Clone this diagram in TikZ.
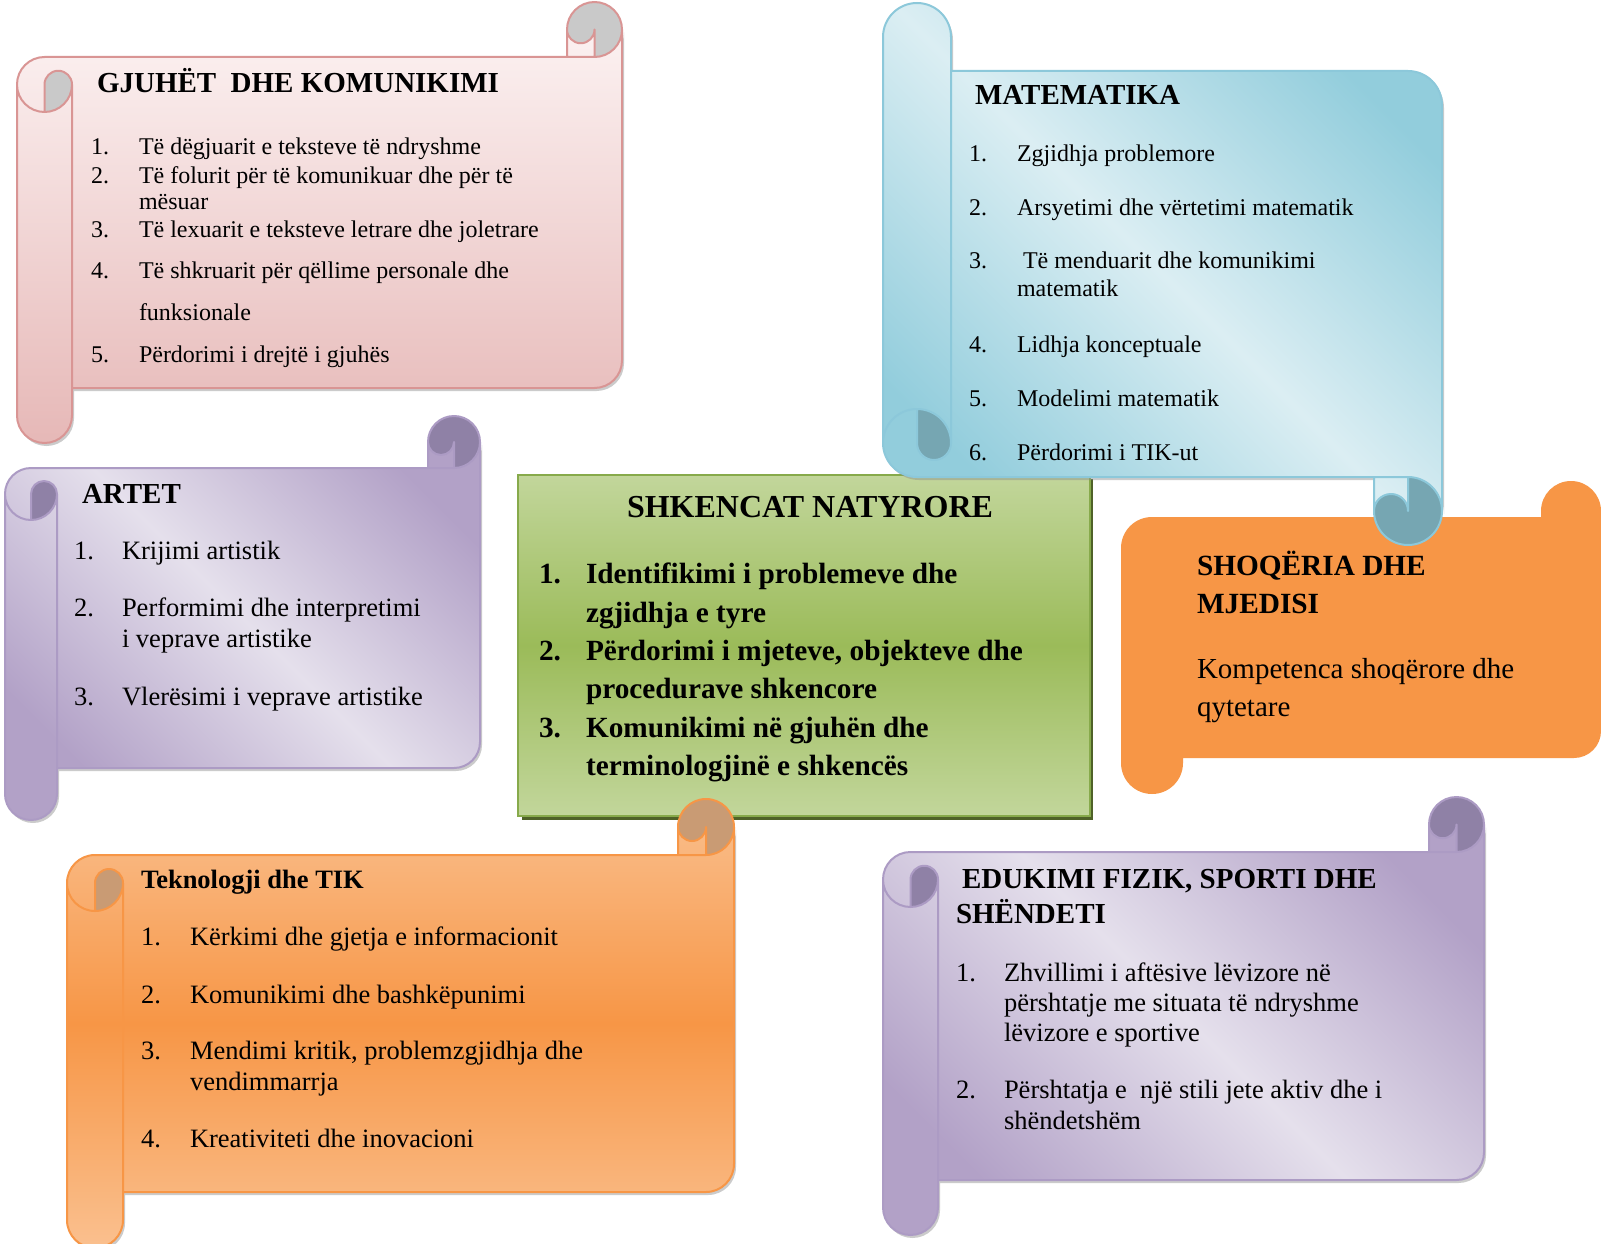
\documentclass[tikz,border=0pt]{standalone}
\usepackage{fontspec}
\setmainfont{Liberation Serif}
\definecolor{pinkA}{RGB}{253,245,245}
\definecolor{pinkB}{RGB}{230,184,183}
\definecolor{pinkLine}{RGB}{217,149,148}
\definecolor{pinkCurl}{RGB}{201,201,201}
\definecolor{blueA}{RGB}{146,205,220}
\definecolor{blueB}{RGB}{219,238,243}
\definecolor{blueLine}{RGB}{140,200,218}
\definecolor{blueCurl}{RGB}{118,166,178}
\definecolor{purA}{RGB}{178,161,199}
\definecolor{purB}{RGB}{229,224,236}
\definecolor{purLine}{RGB}{172,155,196}
\definecolor{purCurl}{RGB}{143,129,166}
\definecolor{orA}{RGB}{250,192,143}
\definecolor{orB}{RGB}{247,150,70}
\definecolor{orCurl}{RGB}{201,155,116}
\definecolor{grA}{RGB}{194,214,155}
\definecolor{grB}{RGB}{155,187,89}
\definecolor{grLine}{RGB}{135,170,75}
\definecolor{grShadow}{RGB}{79,98,40}
\tikzset{
  lbl/.style={anchor=base west, inner sep=0pt, outer sep=0pt},
  fA/.style={lbl, font=\fontsize{24}{28}\selectfont},
  fB/.style={lbl, font=\fontsize{26.5}{30}\selectfont},
  fC/.style={lbl, font=\fontsize{29}{33}\selectfont},
  fCb/.style={lbl, font=\bfseries\fontsize{29.3}{33}\selectfont},
  tA/.style={lbl, font=\bfseries\fontsize{29}{33}\selectfont},
  tB/.style={lbl, font=\bfseries\fontsize{26.5}{30}\selectfont},
  tC/.style={inner sep=0pt, outer sep=0pt, anchor=base, font=\bfseries\fontsize{32}{36}\selectfont},
  shadowc/.style={fill=black!45, opacity=.45},
}
% horizontal scroll geometry in local (y-down) coordinates
\newcommand\hsMain{(\scW,\scB) arc[start angle=0,delta angle=90,radius=\scB]
 -- (\scW-\scB,\scB) arc[start angle=0,delta angle=180,radius=\scQ]
 -- (\scW-\scC,\scC) -- (\scB,\scC) arc[start angle=270,delta angle=-90,radius=\scB]
 -- (0,\scH-\scB) arc[start angle=180,delta angle=-180,radius=\scB]
 -- (\scC,\scH-\scC) -- (\scW-\scB,\scH-\scC) arc[start angle=90,delta angle=-90,radius=\scB]
 -- cycle}
\newcommand\hsCurlL{(\scB,2*\scC) arc[start angle=90,delta angle=-90,radius=\scB]
 arc[start angle=0,delta angle=-180,radius=\scQ] -- cycle}
\newcommand\hsCurlR{(\scW-\scB,\scC) arc[start angle=90,delta angle=-270,radius=\scB]
 arc[start angle=180,delta angle=-180,radius=\scQ] -- cycle}
\newcommand\hsOutline{(0,1.5*\scC) arc[start angle=180,delta angle=90,radius=\scB]
 -- (\scW-\scC,\scC) -- (\scW-\scC,\scB) arc[start angle=180,delta angle=180,radius=\scB]
 -- (\scW,\scH-1.5*\scC) arc[start angle=0,delta angle=90,radius=\scB]
 -- (\scC,\scH-\scC) -- (\scC,\scH-\scB) arc[start angle=0,delta angle=180,radius=\scB] -- cycle
 (\scW-\scC,\scC) -- (\scW-\scB,\scC) arc[start angle=90,delta angle=-90,radius=\scB]
 (\scW-\scB,\scC) -- (\scW-\scB,\scB) arc[start angle=0,delta angle=180,radius=\scQ]
 (\scB,2*\scC) -- (\scB,1.5*\scC) arc[start angle=180,delta angle=180,radius=\scQ]
 arc[start angle=0,delta angle=180,radius=\scB]
 (\scC,1.5*\scC) -- (\scC,\scH-\scC)}
% #1 l, #2 t, #3 r, #4 b, #5 ch, #6 flip, #7 shading, #8 curl colour, #9 line colour
\newcommand\Scroll[9]{%
  \pgfmathsetmacro\scW{#3-#1}%
  \pgfmathsetmacro\scH{#4-#2}%
  \pgfmathsetmacro\scC{#5}%
  \pgfmathsetmacro\scB{#5/2}%
  \pgfmathsetmacro\scQ{#5/4}%
  \ifnum#6=0
    \tikzset{strans/.style={shift={(#1,-#2)},yscale=-1}}%
  \else
    \tikzset{strans/.style={shift={(#1,-#4)}}}%
  \fi
  \fill[shadowc,shift={(2,-3)},strans] \hsMain;
  \begin{scope}
    \clip[strans] \hsMain;
    \shade[#7] (#1,-#2) rectangle (#3,-#4);
  \end{scope}
  \fill[#8,strans] \hsCurlL \hsCurlR;
  \draw[#9,line width=2,line join=round,strans] \hsOutline;
}
\begin{document}
\begin{tikzpicture}[x=1pt,y=1pt]
\useasboundingbox (0,0) rectangle (1601,-1244);
\clip (0,0) rectangle (1601,-1244);
\fill[white] (0,0) rectangle (1601,-1244);

% ---------- shapes ----------
\Scroll{17}{2}{622}{443}{55}{0}{top color=pinkA,bottom color=pinkB}{pinkCurl}{pinkLine}
\Scroll{5}{416}{480}{820}{52}{0}{top color=purA,bottom color=purA,middle color=purB,shading angle=-45}{purCurl}{purLine}

% SHOQERIA shape
\fill[orB] (1121,-548) arc[start angle=180,end angle=90,radius=31]
  -- (1541,-517) -- (1541,-511) arc[start angle=180,end angle=0,radius=30]
  -- (1601,-731) arc[start angle=0,end angle=-90,radius=27]
  -- (1183,-758) -- (1183,-763) arc[start angle=0,end angle=-180,radius=31] -- cycle;

% SHKENCAT NATYRORE box
\fill[grShadow] (522,-479) rectangle (1093,-820);
\shade[top color=grA,bottom color=grA,middle color=grB] (518,-475) rectangle (1090,-816);
\draw[grLine,line width=2.5] (518,-475) rectangle (1090,-816);

\Scroll{883}{3}{1442}{545}{68}{1}{top color=blueA,bottom color=blueA,middle color=blueB,shading angle=-45}{blueCurl}{blueLine}
\Scroll{67}{799}{734}{1248}{56}{0}{top color=orA,bottom color=orA,middle color=orB}{orCurl}{orB}
\Scroll{883}{797}{1484}{1235}{55}{0}{top color=purA,bottom color=purA,middle color=purB,shading angle=-45}{purCurl}{purLine}

% ---------- GJUHET DHE KOMUNIKIMI ----------
\node[tA] (g0) at (97,-93) {GJUHËT\ \ DHE KOMUNIKIMI};
\node[fA] (g1n) at (91,-155) {1.};
\node[fA] (g1) at (139,-155) {Të dëgjuarit e teksteve të ndryshme};
\node[fA] (g2n) at (91,-183) {2.};
\node[fA] (g2) at (139,-183) {Të folurit për të komunikuar dhe për të};
\node[fA] (g2b) at (139,-209) {mësuar};
\node[fA] (g3n) at (91,-237) {3.};
\node[fA] (g3) at (139,-237) {Të lexuarit e teksteve letrare dhe joletrare};
\node[fA] (g4n) at (91,-278) {4.};
\node[fA] (g4) at (139,-278) {Të shkruarit për qëllime personale dhe};
\node[fA] (g4b) at (139,-320) {funksionale};
\node[fA] (g5n) at (91,-362) {5.};
\node[fA] (g5) at (139,-362) {Përdorimi i drejtë i gjuhës};

% ---------- MATEMATIKA ----------
\node[tA] (m0) at (975,-105) {MATEMATIKA};
\node[fA] (m1n) at (969,-161) {1.};
\node[fA] (m1) at (1017,-161) {Zgjidhja problemore};
\node[fA] (m2n) at (969,-215) {2.};
\node[fA] (m2) at (1017,-215) {Arsyetimi dhe vërtetimi matematik};
\node[fA] (m3n) at (969,-268) {3.};
\node[fA] (m3) at (1017,-268) {\ Të menduarit dhe komunikimi};
\node[fA] (m3b) at (1017,-296) {matematik};
\node[fA] (m4n) at (969,-352) {4.};
\node[fA] (m4) at (1017,-352) {Lidhja konceptuale};
\node[fA] (m5n) at (969,-406) {5.};
\node[fA] (m5) at (1017,-406) {Modelimi matematik};
\node[fA] (m6n) at (969,-460) {6.};
\node[fA] (m6) at (1017,-460) {Përdorimi i TIK-ut};

% ---------- ARTET ----------
\node[tA] (a0) at (82,-503) {ARTET};
\node[fB] (a1n) at (74,-559) {1.};
\node[fB] (a1) at (122,-559) {Krijimi artistik};
\node[fB] (a2n) at (74,-616) {2.};
\node[fB] (a2) at (122,-616) {Performimi dhe interpretimi};
\node[fB] (a2b) at (122,-647) {i veprave artistike};
\node[fB] (a3n) at (74,-705) {3.};
\node[fB] (a3) at (122,-705) {Vlerësimi i veprave artistike};

% ---------- SHKENCAT NATYRORE ----------
\node[tC] (s0) at (810,-517) {SHKENCAT NATYRORE};
\node[fCb] (s1n) at (539,-583) {1.};
\node[fCb] (s1) at (586,-583) {Identifikimi i problemeve dhe};
\node[fCb] (s1b) at (586,-622) {zgjidhja e tyre};
\node[fCb] (s2n) at (539,-660) {2.};
\node[fCb] (s2) at (586,-660) {Përdorimi i mjeteve, objekteve dhe};
\node[fCb] (s2b) at (586,-698) {procedurave shkencore};
\node[fCb] (s3n) at (539,-737) {3.};
\node[fCb] (s3) at (586,-737) {Komunikimi në gjuhën dhe};
\node[fCb] (s3b) at (586,-775) {terminologjinë e shkencës};

% ---------- SHOQERIA DHE MJEDISI ----------
\node[fCb] (q0) at (1197,-575) {SHOQËRIA DHE};
\node[fCb] (q0b) at (1197,-613) {MJEDISI};
\node[fC] (q1) at (1197,-678) {Kompetenca shoqërore dhe};
\node[fC] (q1b) at (1197,-716) {qytetare};

% ---------- Teknologji dhe TIK ----------
\node[tB] (t0) at (141,-888) {Teknologji dhe TIK};
\node[fB] (t1n) at (141,-945) {1.};
\node[fB] (t1) at (190,-945) {Kërkimi dhe gjetja e informacionit};
\node[fB] (t2n) at (141,-1003) {2.};
\node[fB] (t2) at (190,-1003) {Komunikimi dhe bashkëpunimi};
\node[fB] (t3n) at (141,-1059) {3.};
\node[fB] (t3) at (190,-1059) {Mendimi kritik, problemzgjidhja dhe};
\node[fB] (t3b) at (190,-1090) {vendimmarrja};
\node[fB] (t4n) at (141,-1147) {4.};
\node[fB] (t4) at (190,-1147) {Kreativiteti dhe inovacioni};

% ---------- EDUKIMI FIZIK ----------
\node[tA] (e0) at (962,-888) {EDUKIMI FIZIK, SPORTI DHE};
\node[tA] (e0b) at (956,-923) {SHËNDETI};
\node[fB] (e1n) at (956,-981) {1.};
\node[fB] (e1) at (1004,-981) {Zhvillimi i aftësive lëvizore në};
\node[fB] (e1b) at (1004,-1011) {përshtatje me situata të ndryshme};
\node[fB] (e1c) at (1004,-1041) {lëvizore e sportive};
\node[fB] (e2n) at (956,-1098) {2.};
\node[fB] (e2) at (1004,-1098) {Përshtatja e\ \ një stili jete aktiv dhe i};
\node[fB] (e2b) at (1004,-1129) {shëndetshëm};
\end{tikzpicture}
\end{document}
